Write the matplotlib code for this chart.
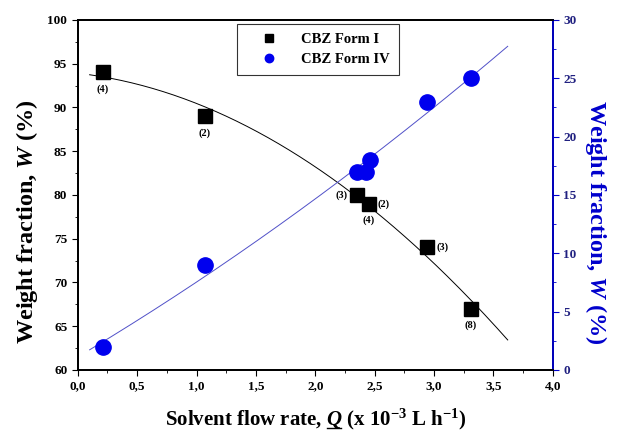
import numpy as np
import matplotlib
matplotlib.use("Agg")
import matplotlib.pyplot as plt
from matplotlib.lines import Line2D

plt.rcParams['font.family'] = 'Liberation Serif'
plt.rcParams['font.weight'] = 'bold'
plt.rcParams['mathtext.fontset'] = 'custom'
plt.rcParams['mathtext.rm'] = 'Liberation Serif:bold'
plt.rcParams['mathtext.it'] = 'Liberation Serif:italic:bold'
plt.rcParams['mathtext.bf'] = 'Liberation Serif:bold'

# Form I (left axis) and Form IV (right axis) weight fractions
q_form1 = [0.21, 1.07, 2.35, 2.45, 2.94, 3.31]
w_form1 = [94, 89, 80, 79, 74, 67]

q_form4 = [0.21, 1.07, 2.35, 2.43, 2.46, 2.94, 3.31]
w_form4 = [2, 9, 17, 17, 18, 23, 25]

# run counts written beside the Form I points (index of point, text)
lbl_idx = [0, 1, 2, 3, 3, 4, 5]
lbl_txt = ['(4)', '(2)', '(3)', '(2)', '(4)', '(3)', '(8)']

fig = plt.figure(figsize=(6.17, 4.33), dpi=100)
ax = fig.add_axes([0.126, 0.1455, 0.77, 0.8085])
ax2 = ax.twinx()

# quadratic fits drawn over the flow-rate range
qq = np.linspace(0.1, 3.62, 200)
c1 = np.polyfit(q_form1, w_form1, 2)
c4 = np.polyfit(q_form4, w_form4, 2)
ax.plot(qq, np.polyval(c1, qq), color='black', lw=0.7)
ax2.plot(qq, np.polyval(c4, qq), color='#5050c8', lw=0.7)

h1, = ax.plot(q_form1, w_form1, 's', color='black', ms=10.5, label='CBZ Form I', zorder=5)
h4, = ax2.plot(q_form4, w_form4, 'o', color='#0000ee', ms=11, label='CBZ Form IV', zorder=5)

lbl_off = [(0, -12), (0, -12), (-11, 0), (11, 0), (0, -12), (11, 0), (0, -12)]
for i, t, off in zip(lbl_idx, lbl_txt, lbl_off):
    ax.annotate(t, (q_form1[i], w_form1[i]), xytext=off, textcoords='offset points',
                ha='center', va='center', fontsize=7.5, fontweight='bold')

ax.set_xlim(0, 4)
ax.set_ylim(60, 100)
ax2.set_ylim(0, 30)
ax.set_xticks(np.arange(0, 4.01, 0.5))
ax.set_xticks(np.arange(0, 4.01, 0.25), minor=True)
ax.set_xticklabels([f'{v:.1f}'.replace('.', ',') for v in np.arange(0, 4.01, 0.5)])
ax.set_yticks(np.arange(60, 101, 5))
ax.set_yticks(np.arange(60, 101, 2.5), minor=True)
ax2.set_yticks(np.arange(0, 31, 5))
ax2.set_yticks(np.arange(0, 31, 2.5), minor=True)

for a in (ax, ax2):
    a.tick_params(which='both', direction='out', labelsize=9.5)
    a.tick_params(which='major', length=4)
    a.tick_params(which='minor', length=2.5)
    for s in a.spines.values():
        s.set_linewidth(1.3)
ax2.spines['right'].set_color('#0000cc')
ax2.tick_params(axis='y', which='both', colors='#0000cc', labelcolor='#202080')

xlab_pre = r'Solvent flow rate, $\mathit{Q}$'
ax.set_xlabel(xlab_pre + r' (x 10$^{-3}$ L h$^{-1}$)', fontsize=15, fontweight='bold')
ax.xaxis.set_label_coords(0.5, -0.105)
ax.xaxis.label.set_va('top')
ax.set_ylabel(r'Weight fraction, $\mathit{W}$ (%)', fontsize=17.5, fontweight='bold')
ax.yaxis.set_label_coords(-0.08, 0.423)
ax2.set_ylabel(r'Weight fraction, $\mathit{W}$ (%)', fontsize=17.5, fontweight='bold',
               color='#0000cc', rotation=270, va='bottom')
ax2.yaxis.set_label_coords(1.063, 0.423)

leg = ax2.legend(handles=[h1, h4], loc='upper left', bbox_to_anchor=(0.335, 0.988),
                 fancybox=False, edgecolor='black', markerscale=0.55,
                 prop={'family': 'Liberation Serif', 'weight': 'bold', 'size': 10.5},
                 handletextpad=0.6, handlelength=3.2, borderpad=0.6, labelspacing=0.45,
                 borderaxespad=0.0)
leg.get_frame().set_linewidth(0.8)

# underline the italic Q in the x label, just under its baseline
fig.canvas.draw()
r = fig.canvas.get_renderer()
lab = ax.xaxis.label
bb = lab.get_window_extent(r)
fp = lab.get_fontproperties()
def text_size(s):
    return r.get_text_width_height_descent(s, fp, ismath=True)
xq1 = bb.x0 + text_size(xlab_pre)[0]
xq0 = xq1 - text_size(r'$\mathit{Q}$')[0]
base = bb.y0 + text_size(lab.get_text())[2]
yq = base - 3
fig.add_artist(Line2D([(xq0 + 1) / fig.bbox.width, (xq1 - 1) / fig.bbox.width],
                      [yq / fig.bbox.height] * 2, color='black', lw=1.0))

fig.savefig('out.png', dpi=100)
